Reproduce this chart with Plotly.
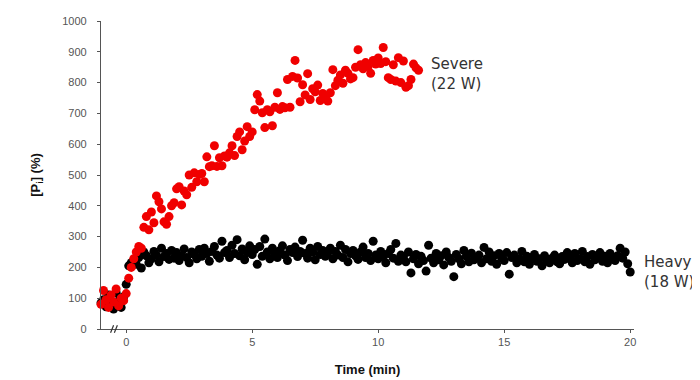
import plotly.graph_objects as go

# Sampling grid (min) — one reading every 0.1 min
heavy_time = [round(-1.0 + 0.1 * i, 1) for i in range(211)]
severe_time = [round(-1.0 + 0.1 * i, 1) for i in range(127)]

# Heavy (18 W) — black
heavy_pi = [
    85, 95, 72, 110, 88, 65, 118, 92, 70, 105,
    145, 205, 215, 222, 210, 232, 198, 250, 238, 215,
    228, 252, 240, 218, 262, 235, 245, 226, 255, 230,
    248, 222, 238, 260, 232, 215, 250, 242, 228, 258,
    236, 262, 245, 220, 252, 268, 240, 230, 285, 248,
    255, 232, 272, 245, 290, 238, 260, 225, 248, 270,
    242, 258, 210, 268, 236, 292, 250, 228, 262, 245,
    232, 255, 270, 240, 222, 258, 248, 266, 235, 252,
    288, 245, 230, 262, 250, 225, 268, 242, 255, 236,
    248, 262, 228, 252, 240, 272, 232, 258, 218, 245,
    255, 238, 226, 250, 266, 232, 245, 222, 285, 240,
    228, 252, 236, 215, 245, 258, 230, 278, 220, 240,
    235, 218, 250, 182, 228, 242, 212, 236, 222, 188,
    272, 230, 215, 245, 225, 238, 208, 250, 232, 220,
    170, 242, 228, 212, 255, 236, 218, 246, 225, 232,
    240, 215, 265, 228, 250, 220, 238, 210, 245, 230,
    222, 248, 178, 232, 240, 215, 228, 252, 218, 236,
    210, 232, 242, 220, 228, 205, 238, 222, 215, 230,
    240, 218, 212, 235, 226, 248, 230, 215, 245, 222,
    228, 252, 218, 235, 210, 242, 225, 232, 248, 220,
    236, 215, 245, 228, 222, 238, 262, 230, 250, 212,
    185,
]

# Severe (22 W) — red
severe_pi = [
    80, 125, 95, 70, 110, 88, 130, 75, 100, 92,
    115, 165, 200, 228, 250, 268, 262, 330, 365, 322,
    380, 345, 432, 413, 390, 348, 340, 365, 400, 410,
    455, 462, 403, 448, 436, 500, 460, 507, 478, 502,
    505, 478, 559, 527, 530, 595, 528, 556, 530, 562,
    558, 572, 595, 563, 625, 640, 582, 610, 657, 625,
    640, 712, 761, 740, 702, 654, 712, 705, 660, 720,
    767, 713, 722, 718, 810, 720, 820, 872, 815, 738,
    793, 760, 829, 745, 780, 770, 792, 742, 765, 755,
    740, 767, 842, 790, 808, 825, 798, 840, 830, 812,
    816, 850, 907, 858, 845, 865, 852, 830, 872, 860,
    880, 862, 914, 868, 816, 810, 858, 805, 881, 800,
    870, 785, 790, 810, 860, 848, 840,
]

x_ticks = [0, 5, 10, 15, 20]
y_ticks = [0, 100, 200, 300, 400, 500, 600, 700, 800, 900, 1000]

fig = go.Figure()
fig.add_trace(go.Scatter(
    x=heavy_time, y=heavy_pi, mode="markers", name="Heavy (18 W)",
    marker=dict(color="#000000", size=9, line=dict(width=0)),
    cliponaxis=False,
))
fig.add_trace(go.Scatter(
    x=severe_time, y=severe_pi, mode="markers", name="Severe (22 W)",
    marker=dict(color="#f00000", size=9, line=dict(width=0)),
    cliponaxis=False,
))

label_font = dict(family="DejaVu Sans, Verdana, sans-serif", size=15, color="#333333")
fig.add_annotation(x=12.0, y=829, xref="x", yref="y", text="Severe<br>(22 W)",
                   showarrow=False, xanchor="left", yanchor="middle", align="left",
                   font=label_font)
fig.add_annotation(x=1.015, y=185, xref="paper", yref="y", text="Heavy<br>(18 W)",
                   showarrow=False, xanchor="left", yanchor="middle", align="left",
                   font=label_font)

# axis break marks on the time axis
for x0 in (-0.62, -0.47):
    fig.add_shape(type="line", xref="x", yref="paper",
                  x0=x0, x1=x0 + 0.12, y0=-0.012, y1=0.012,
                  line=dict(color="#333333", width=1.2))

fig.update_layout(
    width=692, height=372,
    margin=dict(l=93, r=66, t=13, b=51),
    paper_bgcolor="white", plot_bgcolor="white",
    showlegend=False,
    font=dict(family="Liberation Sans, Arial, sans-serif"),
)
fig.update_xaxes(
    range=[-1.0, 20.15], tickvals=x_ticks, ticktext=[str(v) for v in x_ticks],
    automargin=False,
    showgrid=False, zeroline=False, showline=True, linecolor="#555555", linewidth=1.2,
    ticks="outside", ticklen=3, tickcolor="#555555",
    tickfont=dict(size=11, color="#555555"),
    title=dict(text="<b>Time (min)</b>", font=dict(size=13, color="#111111"), standoff=17),
)
fig.update_yaxes(
    range=[0, 1000], tickvals=y_ticks, ticktext=[str(v) for v in y_ticks],
    automargin=False,
    showgrid=False, zeroline=False, showline=True, linecolor="#555555", linewidth=1.2,
    ticks="outside", ticklen=3, tickcolor="#555555",
    tickfont=dict(size=11, color="#555555"), ticklabelstandoff=8,
    title=dict(text="<b>[P<sub>i</sub>] (%)</b>", font=dict(size=13, color="#111111"), standoff=18),
)

fig.write_html("out.html")
